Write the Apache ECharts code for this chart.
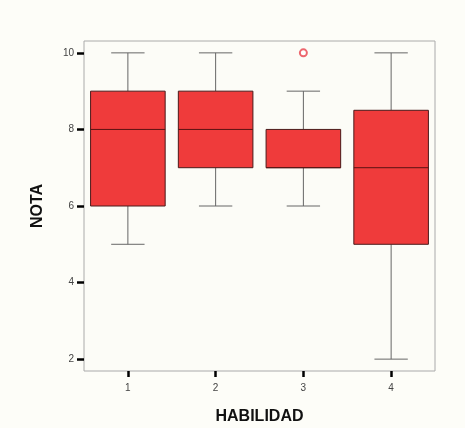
<!DOCTYPE html>
<html>
<head>
<meta charset="utf-8">
<script src="https://cdn.jsdelivr.net/npm/echarts@6/dist/echarts.min.js"></script>
<style>
html,body{margin:0;padding:0;background:#fdfdf8;}
#main{width:465px;height:428px;}
</style>
</head>
<body>
<div id="main"></div>
<script>
// datos
var categories = ['1', '2', '3', '4'];
// [min, Q1, mediana, Q3, max]
var boxValues = [
    [5, 6, 8, 9, 10],
    [6, 7, 8, 9, 10],
    [6, 7, 7, 8, 9],
    [2, 5, 7, 8.5, 10]
];
var outliers = [[2, 10]];
var yTicks = [2, 4, 6, 8, 10];

var boxData = boxValues.map(function (v, i) {
    return [i].concat(v);
});

var chart = echarts.init(document.getElementById('main'));

function renderBox(params, api) {
    var i = api.value(0);
    var bw = api.size([1, 0])[0];
    var half = bw * 0.425;
    var capHalf = bw * 0.19;
    var pMin = api.coord([i, api.value(1)]);
    var pQ1 = api.coord([i, api.value(2)]);
    var pMed = api.coord([i, api.value(3)]);
    var pQ3 = api.coord([i, api.value(4)]);
    var pMax = api.coord([i, api.value(5)]);
    var x = pMin[0];
    var lineStyle = {stroke: '#666', lineWidth: 1};
    return {
        type: 'group',
        children: [
            {type: 'line', shape: {x1: x, y1: pMax[1], x2: x, y2: pQ3[1]}, style: lineStyle},
            {type: 'line', shape: {x1: x, y1: pQ1[1], x2: x, y2: pMin[1]}, style: lineStyle},
            {type: 'line', shape: {x1: x - capHalf, y1: pMax[1], x2: x + capHalf, y2: pMax[1]}, style: lineStyle},
            {type: 'line', shape: {x1: x - capHalf, y1: pMin[1], x2: x + capHalf, y2: pMin[1]}, style: lineStyle},
            {
                type: 'rect',
                shape: {x: x - half, y: pQ3[1], width: half * 2, height: pQ1[1] - pQ3[1]},
                style: {fill: '#ef3b3b', stroke: '#4a1a1a', lineWidth: 1}
            },
            {type: 'line', shape: {x1: x - half, y1: pMed[1], x2: x + half, y2: pMed[1]}, style: {stroke: '#5a1212', lineWidth: 1}}
        ]
    };
}

var option = {
    backgroundColor: '#fdfdf8',
    animation: false,
    grid: {
        left: 84,
        right: 30,
        top: 41,
        bottom: 57,
        outerBoundsMode: 'none',
        show: true,
        borderColor: '#aaaaaa',
        borderWidth: 1,
        backgroundColor: '#fcfcf7'
    },
    xAxis: {
        type: 'category',
        data: categories,
        name: 'HABILIDAD',
        nameLocation: 'middle',
        nameGap: 38,
        nameTextStyle: {fontFamily: 'Liberation Sans', fontWeight: 'bold', fontSize: 16, color: '#111'},
        axisLine: {show: false},
        axisTick: {show: true, alignWithLabel: true, length: 6, lineStyle: {color: '#000', width: 2.5}},
        axisLabel: {fontFamily: 'Liberation Sans', fontSize: 10, color: '#444', margin: 12},
        splitLine: {show: false}
    },
    yAxis: {
        type: 'value',
        min: 1.69,
        max: 10.31,
        name: 'NOTA',
        nameLocation: 'middle',
        nameGap: 38,
        nameRotate: 90,
        nameTextStyle: {fontFamily: 'Liberation Sans', fontWeight: 'bold', fontSize: 16, color: '#111'},
        axisLine: {show: false},
        axisTick: {show: true, customValues: yTicks, length: 7, lineStyle: {color: '#000', width: 2.5}},
        axisLabel: {customValues: yTicks, fontFamily: 'Liberation Sans', fontSize: 10, color: '#444', margin: 10},
        splitLine: {show: false}
    },
    series: [
        {
            type: 'custom',
            renderItem: renderBox,
            encode: {x: 0, y: [1, 2, 3, 4, 5]},
            data: boxData
        },
        {
            type: 'scatter',
            symbol: 'emptyCircle',
            symbolSize: 7,
            itemStyle: {color: '#e8404a', borderColor: '#e8404a', borderWidth: 1.2},
            data: outliers
        }
    ]
};

chart.setOption(option);
</script>
</body>
</html>
